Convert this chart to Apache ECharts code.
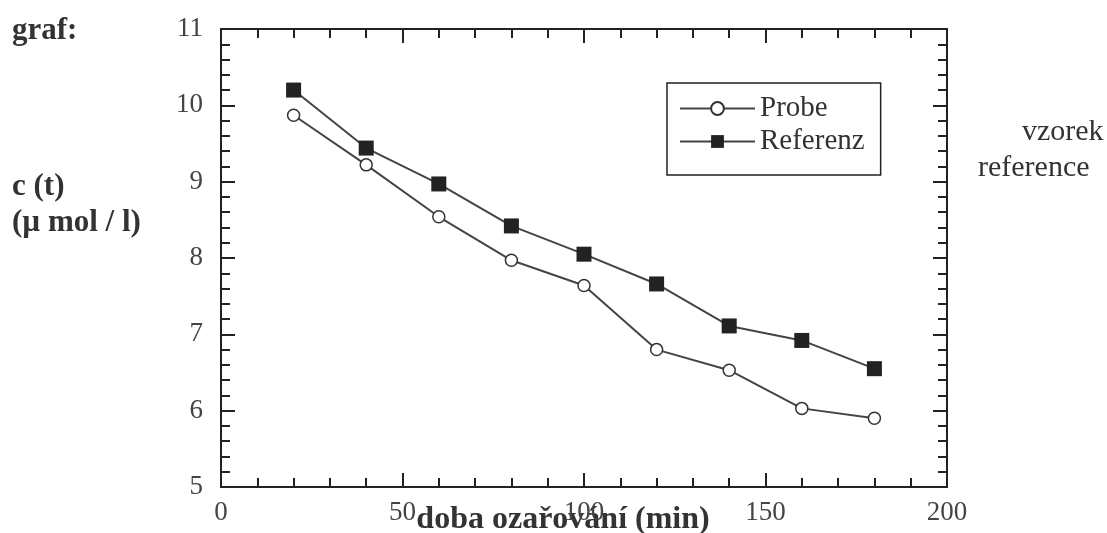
<!DOCTYPE html>
<html>
<head>
<meta charset="utf-8">
<script src="https://cdn.jsdelivr.net/npm/echarts@6/dist/echarts.min.js"></script>
<style>html,body{margin:0;padding:0;background:#fff}#c{width:1107px;height:533px}</style>
</head>
<body>
<div id="c"></div>
<script>
var timeMin = [20, 40, 60, 80, 100, 120, 140, 160, 180];
var probe = [9.87, 9.22, 8.54, 7.97, 7.64, 6.80, 6.53, 6.03, 5.90];
var referenz = [10.20, 9.44, 8.97, 8.42, 8.05, 7.66, 7.11, 6.92, 6.55];
var seriesNames = ['Probe', 'Referenz'];

var serif = '"Liberation Serif", "Times New Roman", serif';
var axisColor = '#222';

function pairs(xs, ys) { return xs.map(function (x, i) { return [x, ys[i]]; }); }

function xAx(pos, showLabel) {
  return {
    type: 'value', position: pos, min: 0, max: 200, interval: 50,
    axisLine: { show: true, onZero: false, lineStyle: { color: axisColor, width: 2 } },
    axisTick: { show: true, inside: true, length: 14, lineStyle: { color: axisColor, width: 2 } },
    minorTick: { show: true, splitNumber: 5, length: 9, lineStyle: { color: axisColor, width: 2 } },
    splitLine: { show: false },
    axisLabel: { show: showLabel, margin: 12, color: '#444', fontFamily: serif, fontSize: 27 }
  };
}
function yAx(pos, showLabel) {
  return {
    type: 'value', position: pos, min: 5, max: 11, interval: 1,
    axisLine: { show: true, onZero: false, lineStyle: { color: axisColor, width: 2 } },
    axisTick: { show: true, inside: true, length: 14, lineStyle: { color: axisColor, width: 2 } },
    minorTick: { show: true, splitNumber: 5, length: 9, lineStyle: { color: axisColor, width: 2 } },
    splitLine: { show: false },
    axisLabel: { show: showLabel, margin: 18, color: '#444', fontFamily: serif, fontSize: 27 }
  };
}

var chart = echarts.init(document.getElementById('c'));
chart.setOption({
  animation: false,
  backgroundColor: '#fff',
  grid: { left: 221, right: 160, top: 29, bottom: 46 },
  xAxis: [xAx('bottom', true), xAx('top', false)],
  yAxis: [yAx('left', true), yAx('right', false)],
  legend: {
    left: 667, top: 83, orient: 'vertical',
    data: seriesNames,
    itemWidth: 75, itemHeight: 16, itemGap: 4,
    padding: [11, 16, 19, 12],
    borderColor: '#222', borderWidth: 1.5,
    textStyle: { fontFamily: serif, fontSize: 29, color: '#333', lineHeight: 28 }
  },
  series: [
    {
      name: seriesNames[0], type: 'line', xAxisIndex: 0, yAxisIndex: 0,
      data: pairs(timeMin, probe),
      symbol: 'circle', symbolSize: 12,
      itemStyle: { color: '#fff', borderColor: '#333', borderWidth: 1.5 },
      lineStyle: { color: '#444', width: 2 }
    },
    {
      name: seriesNames[1], type: 'line', xAxisIndex: 0, yAxisIndex: 0,
      data: pairs(timeMin, referenz),
      symbol: 'rect', symbolSize: 15,
      itemStyle: { color: '#222', borderColor: '#222', borderWidth: 0 },
      lineStyle: { color: '#444', width: 2 }
    }
  ],
  graphic: [
    { type: 'text', x: 12, y: 31, style: { text: 'graf:', font: 'bold 31px ' + serif, fill: '#333', verticalAlign: 'middle', align: 'left' } },
    { type: 'text', x: 12, y: 187, style: { text: 'c (t)', font: 'bold 31px ' + serif, fill: '#333', verticalAlign: 'middle', align: 'left' } },
    { type: 'text', x: 12, y: 223, style: { text: '(µ mol / l)', font: 'bold 31px ' + serif, fill: '#333', verticalAlign: 'middle', align: 'left' } },
    { type: 'text', x: 1022, y: 132, style: { text: 'vzorek', font: '30px ' + serif, fill: '#333', verticalAlign: 'middle', align: 'left' } },
    { type: 'text', x: 978, y: 168, style: { text: 'reference', font: '30px ' + serif, fill: '#333', verticalAlign: 'middle', align: 'left' } },
    { type: 'text', x: 563, y: 520, style: { text: 'doba ozařování (min)', font: 'bold 32px ' + serif, fill: '#333', verticalAlign: 'middle', align: 'center' } }
  ]
});
</script>
</body>
</html>
